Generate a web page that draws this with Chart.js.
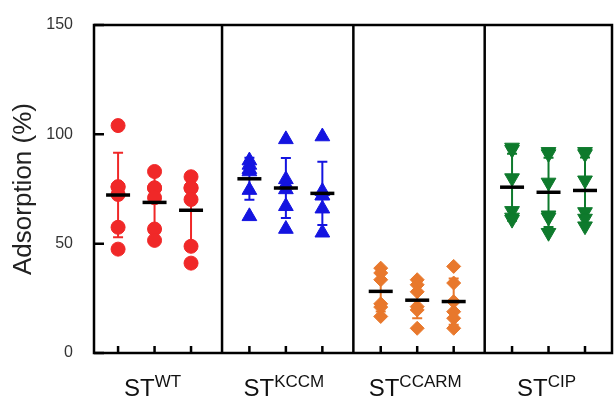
<!DOCTYPE html>
<html>
<head>
<meta charset="utf-8">
<script src="https://cdn.jsdelivr.net/npm/chart.js@4"></script>
<style>
html, body { margin: 0; padding: 0; background: #fff; }
#wrap { width: 615px; height: 399px; }
</style>
</head>
<body>
<div id="wrap"><canvas id="adsChart"></canvas></div>
<script>
// Adsorption (%) per strain, three replicate columns of six points each
const strains = ['WT', 'KCCM', 'CCARM', 'CIP'];
const strainColors = ['#F02828', '#1414E0', '#E8782C', '#0E7A2C'];
const strainShapes = ['circle', 'triangle', 'rectRot', 'triangle'];
const yTicks = [0, 50, 100, 150];

const wtValues = [
    [104, 76, 76, 72.5, 57.5, 47.5],
    [83, 75.5, 75.5, 71, 56.7, 51.5],
    [80.6, 75.5, 75.5, 70.2, 48.8, 41.1]
];
const kccmValues = [
    [88, 86, 84, 83, 74.5, 62.5],
    [97.7, 79.4, 77, 74.8, 67.1, 56.7],
    [99, 74, 72, 72, 66, 55]
];
const ccarmValues = [
    [38.8, 36.6, 33.5, 22.5, 21, 16.7],
    [33.5, 31.2, 28, 21.2, 19.7, 11.3],
    [39.6, 32, 23.5, 18.9, 15.9, 11.3]
];
const cipValues = [
    [94, 93, 80, 65, 62, 61],
    [92, 91, 78, 63, 62, 55],
    [92, 91, 79, 64.5, 61.5, 58]
];
const allValues = [wtValues, kccmValues, ccarmValues, cipValues];

const FONT = "'Liberation Sans', Arial, sans-serif";
const colX = (g, c) => 0.66 + g * 3.6 + c;

function meanOf(arr) {
    return arr.reduce((a, b) => a + b, 0) / arr.length;
}
function sdOf(arr) {
    const m = meanOf(arr);
    return Math.sqrt(arr.reduce((a, v) => a + (v - m) * (v - m), 0) / (arr.length - 1));
}

const datasets = [];
allValues.forEach((cols, g) => {
    cols.forEach((vals, c) => {
        datasets.push({
            label: 'ST' + strains[g] + ' ' + (c + 1),
            group: g,
            col: c,
            data: vals.map(v => ({ x: colX(g, c), y: v })),
            backgroundColor: strainColors[g],
            borderColor: strainColors[g],
            borderWidth: 1,
            pointStyle: strainShapes[g],
            pointRotation: g === 3 ? 180 : 0,
            pointRadius: g === 0 ? 7 : (g === 2 ? 7 : 8.5)
        });
    });
});

// frame, inward ticks, mean +/- SD and the superscript group labels
const dotPlotPlugin = {
    id: 'dotPlot',
    beforeDatasetsDraw(chart) {
        const { ctx, scales: { x, y } } = chart;
        ctx.save();
        chart.data.datasets.forEach(ds => {
            const vals = allValues[ds.group][ds.col];
            const m = meanOf(vals), sd = sdOf(vals);
            const px = x.getPixelForValue(colX(ds.group, ds.col));
            const top = y.getPixelForValue(m + sd), bot = y.getPixelForValue(m - sd);
            ctx.strokeStyle = strainColors[ds.group];
            ctx.lineWidth = 2;
            ctx.beginPath();
            ctx.moveTo(px, top); ctx.lineTo(px, bot);
            ctx.moveTo(px - 5, top); ctx.lineTo(px + 5, top);
            ctx.moveTo(px - 5, bot); ctx.lineTo(px + 5, bot);
            ctx.stroke();
        });
        ctx.restore();
    },
    afterDatasetsDraw(chart) {
        const { ctx, scales: { x, y } } = chart;
        ctx.save();
        ctx.strokeStyle = '#000';
        ctx.lineWidth = 3.5;
        chart.data.datasets.forEach(ds => {
            const m = meanOf(allValues[ds.group][ds.col]);
            const px = x.getPixelForValue(colX(ds.group, ds.col));
            const py = y.getPixelForValue(m);
            ctx.beginPath();
            ctx.moveTo(px - 12, py); ctx.lineTo(px + 12, py);
            ctx.stroke();
        });
        ctx.restore();
    },
    afterDraw(chart) {
        const { ctx, chartArea: a, scales: { x, y } } = chart;
        ctx.save();
        ctx.strokeStyle = '#000';
        ctx.lineWidth = 2.5;
        ctx.strokeRect(a.left, a.top, a.right - a.left, a.bottom - a.top);
        ctx.beginPath();
        for (let g = 1; g < strains.length; g++) {
            const bx = x.getPixelForValue((colX(g - 1, 2) + colX(g, 0)) / 2 + 0.05);
            ctx.moveTo(bx, a.top); ctx.lineTo(bx, a.bottom);
        }
        ctx.stroke();
        // inward tick marks
        ctx.lineWidth = 2.5;
        ctx.beginPath();
        yTicks.forEach(v => {
            const py = y.getPixelForValue(v);
            ctx.moveTo(a.left, py); ctx.lineTo(a.left + 10, py);
        });
        strains.forEach((s, g) => {
            for (let c = 0; c < 3; c++) {
                const px = x.getPixelForValue(colX(g, c));
                ctx.moveTo(px, a.bottom); ctx.lineTo(px, a.bottom - 7);
            }
        });
        ctx.stroke();
        // group labels: ST with superscript
        ctx.fillStyle = '#111';
        ctx.textBaseline = 'alphabetic';
        ctx.textAlign = 'left';
        strains.forEach((s, g) => {
            const cx = x.getPixelForValue(colX(g, 1)) - 2;
            ctx.font = '24px ' + FONT;
            const w1 = ctx.measureText('ST').width;
            ctx.font = '17px ' + FONT;
            const w2 = ctx.measureText(s).width;
            const start = cx - (w1 + w2) / 2;
            ctx.font = '24px ' + FONT;
            ctx.fillText('ST', start, 396);
            ctx.font = '17px ' + FONT;
            ctx.fillText(s, start + w1, 387);
        });
        ctx.restore();
    }
};

new Chart(document.getElementById('adsChart').getContext('2d'), {
    type: 'scatter',
    data: { datasets: datasets },
    plugins: [dotPlotPlugin],
    options: {
        responsive: true,
        maintainAspectRatio: false,
        animation: false,
        layout: { autoPadding: false, padding: { top: 25, right: 3, left: 0, bottom: 0 } },
        plugins: {
            legend: { display: false },
            tooltip: { enabled: false }
        },
        scales: {
            x: {
                type: 'linear',
                min: 0,
                max: 14.2,
                grid: { display: false, drawTicks: false },
                border: { display: false },
                ticks: { display: false },
                afterFit(s) { s.height = 46; }
            },
            y: {
                min: 0,
                max: 150,
                afterBuildTicks(s) { s.ticks = yTicks.map(v => ({ value: v })); },
                grid: { display: false, drawTicks: false },
                border: { display: false },
                ticks: { padding: 21, color: '#333', font: { family: FONT, size: 16 } },
                title: {
                    display: true,
                    text: 'Adsorption (%)',
                    color: '#222',
                    font: { family: FONT, size: 26 },
                    padding: { top: 8, bottom: 0 }
                },
                afterFit(s) {
                    s.width = 94;
                    s.paddingTop = 0;
                    s.paddingBottom = 0;
                }
            }
        }
    }
});
</script>
</body>
</html>
